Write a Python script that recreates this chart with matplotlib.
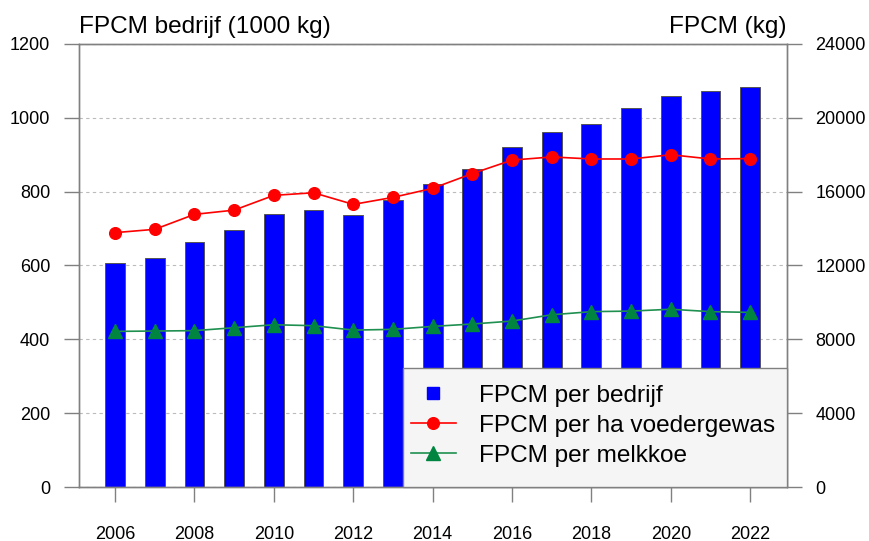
import matplotlib
matplotlib.use("Agg")
import matplotlib.pyplot as plt
from matplotlib.lines import Line2D
from matplotlib.patches import Rectangle

plt.rcParams['font.family'] = ['Liberation Sans', 'DejaVu Sans']

years = [2006, 2007, 2008, 2009, 2010, 2011, 2012, 2013, 2014, 2015, 2016,
         2017, 2018, 2019, 2020, 2021, 2022]
fpcm_bedrijf = [607, 620, 663, 695, 739, 750, 736, 778, 821, 861, 921,
                961, 983, 1027, 1060, 1072, 1083]
fpcm_per_ha = [13780, 13960, 14770, 15000, 15800, 15940, 15310, 15690, 16180,
               16980, 17710, 17880, 17770, 17770, 18000, 17770, 17790]
fpcm_per_koe = [8430, 8450, 8470, 8630, 8790, 8740, 8500, 8540, 8700,
                8830, 8990, 9330, 9500, 9530, 9630, 9500, 9460]

left_ticks = [0, 200, 400, 600, 800, 1000, 1200]
right_ticks = [0, 4000, 8000, 12000, 16000, 20000, 24000]
x_ticks = [2006, 2008, 2010, 2012, 2014, 2016, 2018, 2020, 2022]

labels = ['FPCM per bedrijf', 'FPCM per ha voedergewas', 'FPCM per melkkoe']

fig = plt.figure(figsize=(8.69, 5.41), dpi=100)
ax = fig.add_axes([0.0909, 0.0998, 0.8144, 0.8189])
ax2 = ax.twinx()

spine_col = '#808080'
ax.bar(years, fpcm_bedrijf, width=0.5, color='#0000ff', edgecolor='#555555',
       linewidth=0.7, zorder=2)
ax.set_ylim(0, 1200)
ax.set_xlim(2005.09, 2022.92)
ax.set_yticks(left_ticks)
ax.set_xticks(x_ticks)
ax.yaxis.grid(True, linestyle=(0, (3, 3)), color='#bbbbbb', linewidth=0.8, zorder=0)
ax.set_axisbelow(True)

ax2.plot(years, fpcm_per_ha, color='#ff0000', linewidth=1.2, marker='o',
         markersize=8.4, zorder=3)
ax2.plot(years, fpcm_per_koe, color='#1f9050', linewidth=1.2, marker='^',
         markerfacecolor='#008540', markeredgecolor='#008540', markersize=10,
         zorder=3)
ax2.set_ylim(0, 24000)
ax2.set_yticks(right_ticks)

for a in (ax, ax2):
    for s in a.spines.values():
        s.set_color(spine_col)
        s.set_linewidth(1.0)
    a.tick_params(axis='both', direction='out', length=10.8, width=1.0,
                  color=spine_col, labelsize=13, labelcolor='black', pad=10)
ax.tick_params(axis='x', pad=17)

ax.text(0.0, 1.0248, 'FPCM bedrijf (1000 kg)', transform=ax.transAxes,
        fontsize=17.6, ha='left', va='baseline')
ax.text(1.0, 1.0248, 'FPCM (kg)', transform=ax.transAxes,
        fontsize=17.6, ha='right', va='baseline')

# legend box
box_x0, box_w, box_h = 0.458, 0.542, 0.2686
ax2.add_patch(Rectangle((box_x0, 0.0), box_w, box_h, transform=ax2.transAxes,
                        facecolor='#f5f5f5', edgecolor=spine_col, linewidth=1.0,
                        zorder=4, clip_on=False))

handles = [
    Line2D([], [], linestyle='none', marker='s', color='#0000ff', markersize=8),
    Line2D([], [], color='#ff0000', linewidth=1.2, marker='o', markersize=8.4),
    Line2D([], [], color='#1f9050', linewidth=1.2, marker='^',
           markerfacecolor='#008540', markeredgecolor='#008540', markersize=10),
]
leg = ax2.legend(handles, labels, loc='center',
                 bbox_to_anchor=(box_x0 + box_w / 2 - 0.003, box_h / 2 + 0.004),
                 borderaxespad=0, fontsize=17.6, frameon=False,
                 handlelength=1.85, handletextpad=0.95, borderpad=0,
                 labelspacing=0.33)
leg.set_zorder(5)

fig.savefig('out.png', dpi=100)
